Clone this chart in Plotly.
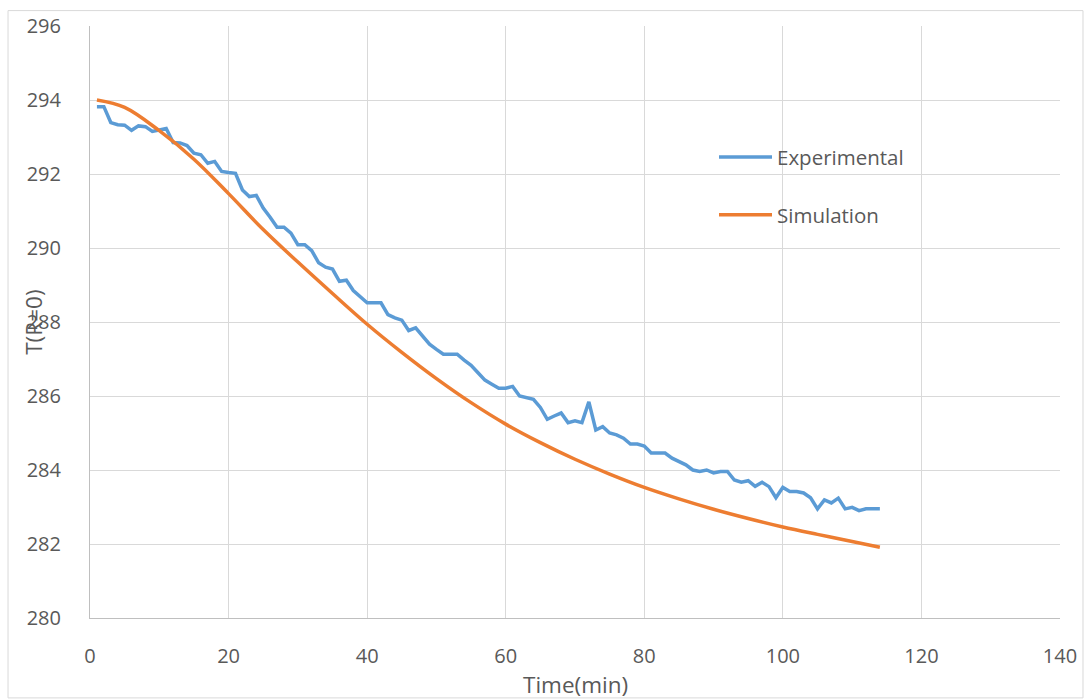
import plotly.graph_objects as go

# Measured centre temperature, one reading per minute
exp_time = list(range(1, 115))
exp_temp = [
    293.82, 293.82, 293.39, 293.33, 293.32, 293.18, 293.30, 293.28, 293.15, 293.18,
    293.23, 292.85, 292.84, 292.77, 292.56, 292.52, 292.29, 292.34, 292.07, 292.04,
    292.02, 291.57, 291.39, 291.42, 291.08, 290.83, 290.56, 290.56, 290.40, 290.09,
    290.09, 289.93, 289.60, 289.48, 289.43, 289.10, 289.13, 288.85, 288.70, 288.52,
    288.52, 288.52, 288.20, 288.11, 288.05, 287.77, 287.84, 287.62, 287.40, 287.26,
    287.13, 287.13, 287.13, 286.97, 286.83, 286.63, 286.43, 286.32, 286.21, 286.21,
    286.26, 286.00, 285.96, 285.91, 285.69, 285.37, 285.46, 285.54, 285.28, 285.33,
    285.28, 285.84, 285.08, 285.17, 285.00, 284.95, 284.86, 284.70, 284.70, 284.65,
    284.46, 284.46, 284.46, 284.32, 284.23, 284.14, 284.00, 283.96, 284.00, 283.92,
    283.96, 283.96, 283.73, 283.67, 283.71, 283.56, 283.67, 283.55, 283.25, 283.53,
    283.42, 283.42, 283.38, 283.25, 282.95, 283.19, 283.11, 283.24, 282.95, 282.99,
    282.90, 282.95, 282.95, 282.95,
]

# Model prediction
sim_time = [1, 5, 10, 15, 20, 25, 30, 35, 40, 45, 50, 55, 60, 65, 70, 75, 80,
            85, 90, 95, 100, 105, 110, 114]
sim_temp = [294.00, 293.80, 293.17, 292.40, 291.47, 290.50, 289.62, 288.77,
            287.94, 287.18, 286.47, 285.82, 285.24, 284.74, 284.29, 283.89,
            283.53, 283.22, 282.94, 282.69, 282.46, 282.26, 282.07, 281.91]

x_ticks = [0, 20, 40, 60, 80, 100, 120, 140]
y_ticks = [280, 282, 284, 286, 288, 290, 292, 294, 296]

BLUE = "#5B9BD5"
ORANGE = "#ED7D31"
GRID = "#D9D9D9"
TEXT = "#595959"
FONT = "Open Sans"

fig = go.Figure()
fig.add_trace(go.Scatter(
    x=exp_time, y=exp_temp, mode="lines", name="Experimental",
    line=dict(color=BLUE, width=3.5), legendgroup="a",
))
fig.add_trace(go.Scatter(
    x=sim_time, y=sim_temp, mode="lines", name="Simulation",
    line=dict(color=ORANGE, width=3.5, shape="spline", smoothing=1.0),
    legendgroup="b",
))

fig.update_layout(
    width=1091, height=700,
    margin=dict(l=90, r=31, t=24, b=82),
    paper_bgcolor="white", plot_bgcolor="white",
    font=dict(family=FONT, size=20, color=TEXT),
    showlegend=True,
    legend=dict(
        x=0.6433, y=0.812, xanchor="left", yanchor="top",
        bgcolor="rgba(0,0,0,0)", tracegroupgap=28,
        font=dict(family=FONT, size=20.5, color=TEXT),
        itemwidth=53,
    ),
    xaxis=dict(
        range=[0, 140], tickvals=x_ticks, showgrid=True, gridcolor=GRID,
        gridwidth=1, zeroline=False, showline=True, linecolor="#BFBFBF",
        linewidth=1, ticks="", ticklabelstandoff=20,
        tickfont=dict(family=FONT, size=20, color=TEXT),
    ),
    yaxis=dict(
        range=[280, 296], tickvals=y_ticks, showgrid=True, gridcolor=GRID,
        gridwidth=1, zeroline=False, showline=True, linecolor="#BFBFBF",
        linewidth=1, ticks="", ticklabelstandoff=24,
        tickfont=dict(family=FONT, size=20, color=TEXT),
    ),
    annotations=[
        dict(text="Time(min)", xref="paper", yref="paper", x=0.5, y=-0.113,
             xanchor="center", yanchor="middle", showarrow=False,
             font=dict(family=FONT, size=22.5, color=TEXT)),
        dict(text="T(R=0)", xref="paper", yref="paper", x=-0.059, y=0.5,
             xanchor="center", yanchor="middle", showarrow=False,
             textangle=-90, font=dict(family=FONT, size=22.5, color=TEXT)),
    ],
    shapes=[
        dict(type="rect", xref="paper", yref="paper",
             x0=-0.0845, x1=1.0237, y0=-0.135, y1=1.026,
             line=dict(color="#D9D9D9", width=1), fillcolor="rgba(0,0,0,0)",
             layer="below"),
    ],
)

fig.write_html("out.html")
